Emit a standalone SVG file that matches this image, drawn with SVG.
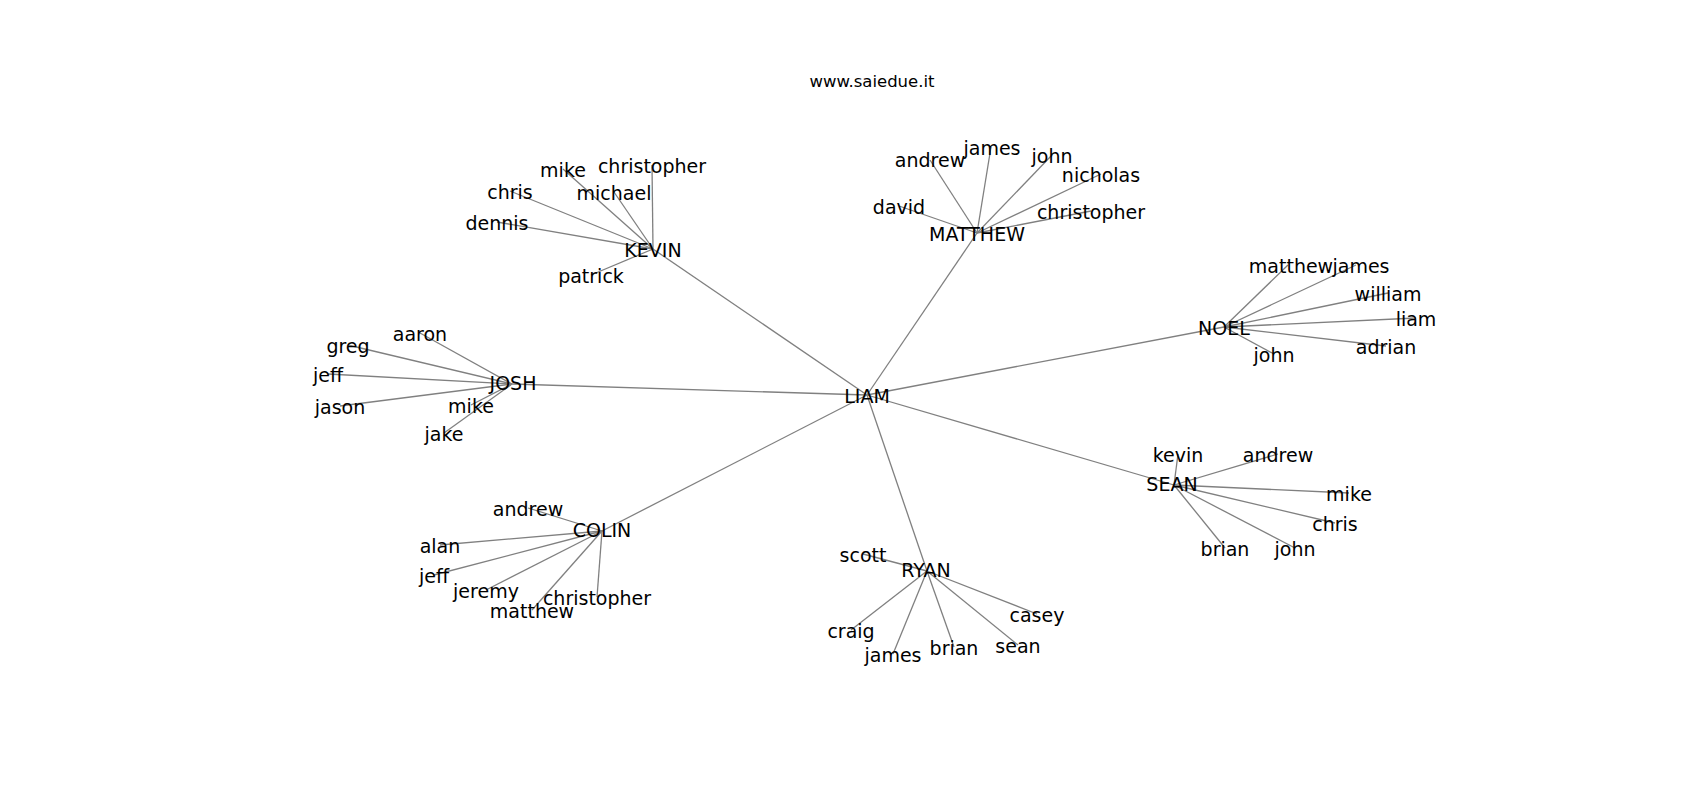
<svg xmlns="http://www.w3.org/2000/svg" width="1700" height="800" viewBox="0 0 1700 800">
<style>
.e{stroke:#808080;stroke-width:1.3;fill:none}
text{font-family:"DejaVu Sans","Liberation Sans",sans-serif;fill:#000;text-anchor:middle}
.n{font-size:19px}
.t{font-size:16.5px}
</style>
<rect width="1700" height="800" fill="#fff"/>
<text class="t" x="872" y="87">www.saiedue.it</text>
<g id="edges">
<line class="e" x1="867" y1="395" x2="653" y2="249"/>
<line class="e" x1="867" y1="395" x2="977" y2="233"/>
<line class="e" x1="867" y1="395" x2="1224" y2="327"/>
<line class="e" x1="867" y1="395" x2="1174" y2="485"/>
<line class="e" x1="867" y1="395" x2="927" y2="571"/>
<line class="e" x1="867" y1="395" x2="602" y2="531"/>
<line class="e" x1="867" y1="395" x2="512" y2="384"/>
<!-- KEVIN -->
<line class="e" x1="653" y1="249" x2="563" y2="169"/>
<line class="e" x1="653" y1="249" x2="652" y2="165"/>
<line class="e" x1="653" y1="249" x2="510" y2="191"/>
<line class="e" x1="653" y1="249" x2="614" y2="192"/>
<line class="e" x1="653" y1="249" x2="497" y2="222"/>
<line class="e" x1="653" y1="249" x2="591" y2="275"/>
<!-- MATTHEW -->
<line class="e" x1="977" y1="233" x2="930" y2="160"/>
<line class="e" x1="977" y1="233" x2="991" y2="147"/>
<line class="e" x1="977" y1="233" x2="1052" y2="155"/>
<line class="e" x1="977" y1="233" x2="1101" y2="174"/>
<line class="e" x1="977" y1="233" x2="899" y2="206"/>
<line class="e" x1="977" y1="233" x2="1091" y2="211"/>
<!-- NOEL -->
<line class="e" x1="1224" y1="327" x2="1288" y2="265"/>
<line class="e" x1="1224" y1="327" x2="1356" y2="265"/>
<line class="e" x1="1224" y1="327" x2="1388" y2="293"/>
<line class="e" x1="1224" y1="327" x2="1416" y2="318"/>
<line class="e" x1="1224" y1="327" x2="1386" y2="346"/>
<line class="e" x1="1224" y1="327" x2="1274" y2="354"/>
<!-- JOSH -->
<line class="e" x1="512" y1="384" x2="420" y2="333"/>
<line class="e" x1="512" y1="384" x2="348" y2="345"/>
<line class="e" x1="512" y1="384" x2="328" y2="374"/>
<line class="e" x1="512" y1="384" x2="340" y2="406"/>
<line class="e" x1="512" y1="384" x2="471" y2="405"/>
<line class="e" x1="512" y1="384" x2="444" y2="433"/>
<!-- COLIN -->
<line class="e" x1="602" y1="531" x2="528" y2="508"/>
<line class="e" x1="602" y1="531" x2="440" y2="545"/>
<line class="e" x1="602" y1="531" x2="434" y2="575"/>
<line class="e" x1="602" y1="531" x2="486" y2="590"/>
<line class="e" x1="602" y1="531" x2="597" y2="597"/>
<line class="e" x1="602" y1="531" x2="532" y2="610"/>
<!-- RYAN -->
<line class="e" x1="927" y1="571" x2="863" y2="554"/>
<line class="e" x1="927" y1="571" x2="1037" y2="614"/>
<line class="e" x1="927" y1="571" x2="851" y2="630"/>
<line class="e" x1="927" y1="571" x2="893" y2="654"/>
<line class="e" x1="927" y1="571" x2="954" y2="647"/>
<line class="e" x1="927" y1="571" x2="1018" y2="645"/>
<!-- SEAN -->
<line class="e" x1="1174" y1="485" x2="1178" y2="454"/>
<line class="e" x1="1174" y1="485" x2="1278" y2="454"/>
<line class="e" x1="1174" y1="485" x2="1349" y2="493"/>
<line class="e" x1="1174" y1="485" x2="1335" y2="523"/>
<line class="e" x1="1174" y1="485" x2="1225" y2="548"/>
<line class="e" x1="1174" y1="485" x2="1295" y2="548"/>
</g>
<g id="LIAM"><text class="n" x="867" y="403">LIAM</text></g>
<g id="KEVIN"><text class="n" x="653" y="257">KEVIN</text></g>
<g id="KEVIN-mike"><text class="n" x="563" y="177">mike</text></g>
<g id="KEVIN-christopher"><text class="n" x="652" y="173">christopher</text></g>
<g id="KEVIN-chris"><text class="n" x="510" y="199">chris</text></g>
<g id="KEVIN-michael"><text class="n" x="614" y="200">michael</text></g>
<g id="KEVIN-dennis"><text class="n" x="497" y="230">dennis</text></g>
<g id="KEVIN-patrick"><text class="n" x="591" y="283">patrick</text></g>
<g id="MATTHEW"><text class="n" x="977" y="241">MATTHEW</text></g>
<g id="MATTHEW-andrew"><text class="n" x="930" y="167">andrew</text></g>
<g id="MATTHEW-james"><text class="n" x="992" y="155">james</text></g>
<g id="MATTHEW-john"><text class="n" x="1052" y="163">john</text></g>
<g id="MATTHEW-nicholas"><text class="n" x="1101" y="182">nicholas</text></g>
<g id="MATTHEW-david"><text class="n" x="899" y="214">david</text></g>
<g id="MATTHEW-christopher"><text class="n" x="1091" y="219">christopher</text></g>
<g id="NOEL"><text class="n" x="1224" y="335">NOEL</text></g>
<g id="NOEL-matthew"><text class="n" x="1291" y="273">matthew</text></g>
<g id="NOEL-james"><text class="n" x="1361" y="273">james</text></g>
<g id="NOEL-william"><text class="n" x="1388" y="301">william</text></g>
<g id="NOEL-liam"><text class="n" x="1416" y="326">liam</text></g>
<g id="NOEL-adrian"><text class="n" x="1386" y="354">adrian</text></g>
<g id="NOEL-john"><text class="n" x="1274" y="362">john</text></g>
<g id="JOSH"><text class="n" x="513" y="390">JOSH</text></g>
<g id="JOSH-aaron"><text class="n" x="420" y="341">aaron</text></g>
<g id="JOSH-greg"><text class="n" x="348" y="353">greg</text></g>
<g id="JOSH-jeff"><text class="n" x="328" y="382">jeff</text></g>
<g id="JOSH-jason"><text class="n" x="340" y="414">jason</text></g>
<g id="JOSH-mike"><text class="n" x="471" y="413">mike</text></g>
<g id="JOSH-jake"><text class="n" x="444" y="441">jake</text></g>
<g id="COLIN"><text class="n" x="602" y="537">COLIN</text></g>
<g id="COLIN-andrew"><text class="n" x="528" y="516">andrew</text></g>
<g id="COLIN-alan"><text class="n" x="440" y="553">alan</text></g>
<g id="COLIN-jeff"><text class="n" x="434" y="583">jeff</text></g>
<g id="COLIN-jeremy"><text class="n" x="486" y="598">jeremy</text></g>
<g id="COLIN-christopher"><text class="n" x="597" y="605">christopher</text></g>
<g id="COLIN-matthew"><text class="n" x="532" y="618">matthew</text></g>
<g id="RYAN"><text class="n" x="926" y="577">RYAN</text></g>
<g id="RYAN-scott"><text class="n" x="863" y="562">scott</text></g>
<g id="RYAN-casey"><text class="n" x="1037" y="622">casey</text></g>
<g id="RYAN-craig"><text class="n" x="851" y="638">craig</text></g>
<g id="RYAN-james"><text class="n" x="893" y="662">james</text></g>
<g id="RYAN-brian"><text class="n" x="954" y="655">brian</text></g>
<g id="RYAN-sean"><text class="n" x="1018" y="653">sean</text></g>
<g id="SEAN"><text class="n" x="1172" y="491">SEAN</text></g>
<g id="SEAN-kevin"><text class="n" x="1178" y="462">kevin</text></g>
<g id="SEAN-andrew"><text class="n" x="1278" y="462">andrew</text></g>
<g id="SEAN-mike"><text class="n" x="1349" y="501">mike</text></g>
<g id="SEAN-chris"><text class="n" x="1335" y="531">chris</text></g>
<g id="SEAN-brian"><text class="n" x="1225" y="556">brian</text></g>
<g id="SEAN-john"><text class="n" x="1295" y="556">john</text></g>
</svg>
